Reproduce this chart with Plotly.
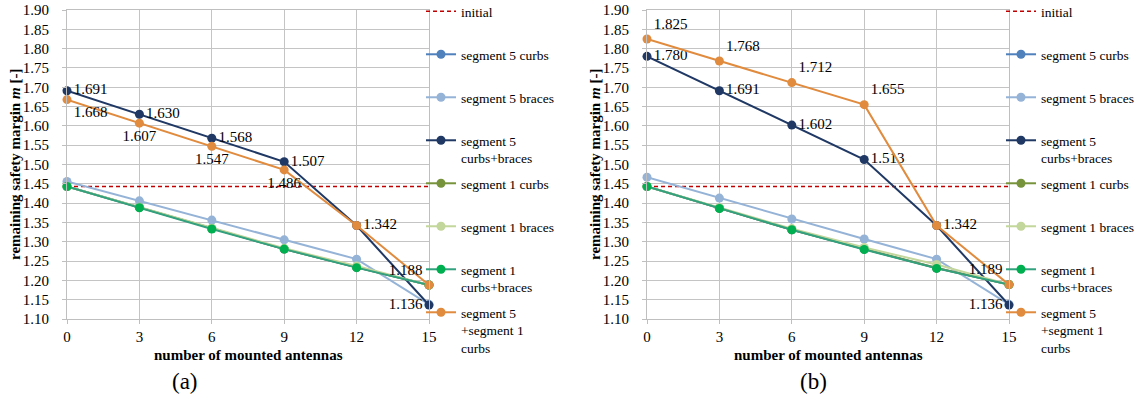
import plotly.graph_objects as go

# ---------------- data ----------------
antennas = [0, 3, 6, 9, 12, 15]
y_ticks = [1.10, 1.15, 1.20, 1.25, 1.30, 1.35, 1.40, 1.45, 1.50, 1.55, 1.60,
           1.65, 1.70, 1.75, 1.80, 1.85, 1.90]

series_names = ["initial", "segment 5 curbs", "segment 5 braces",
                "segment 5<br>curbs+braces", "segment 1 curbs", "segment 1 braces",
                "segment 1<br>curbs+braces", "segment 5<br>+segment 1<br>curbs"]

# panel (a)
a_initial = [1.443, 1.443, 1.443, 1.443, 1.443, 1.443]
a_seg5_curbs = [1.443, 1.389, 1.334, 1.281, 1.234, 1.188]
a_seg5_braces = [1.456, 1.406, 1.356, 1.305, 1.255, 1.138]
a_seg5_cb = [1.691, 1.630, 1.568, 1.507, 1.342, 1.136]
a_seg1_curbs = [1.443, 1.389, 1.334, 1.281, 1.234, 1.188]
a_seg1_braces = [1.443, 1.389, 1.335, 1.283, 1.237, 1.188]
a_seg1_cb = [1.443, 1.388, 1.333, 1.281, 1.233, 1.188]
a_seg51_curbs = [1.668, 1.607, 1.547, 1.486, 1.342, 1.188]

# panel (b)
b_initial = [1.443, 1.443, 1.443, 1.443, 1.443, 1.443]
b_seg5_curbs = [1.443, 1.387, 1.331, 1.281, 1.232, 1.189]
b_seg5_braces = [1.467, 1.413, 1.359, 1.307, 1.255, 1.138]
b_seg5_cb = [1.780, 1.691, 1.602, 1.513, 1.342, 1.136]
b_seg1_curbs = [1.443, 1.387, 1.331, 1.281, 1.232, 1.189]
b_seg1_braces = [1.443, 1.388, 1.334, 1.285, 1.241, 1.189]
b_seg1_cb = [1.443, 1.386, 1.331, 1.280, 1.231, 1.189]
b_seg51_curbs = [1.825, 1.768, 1.712, 1.655, 1.342, 1.189]

# ---------------- styling ----------------
FONT = "Liberation Serif, Times New Roman, DejaVu Serif, serif"
W, H = 1139, 398


def px_x(x):
    return x / W


def px_y(y):
    return 1 - y / H


colors_line = ["#C00000", "#4F81BD", "#95B3D7", "#1F3864", "#77933C",
               "#C3D69B", "#33A07E", "#E08B3E"]
colors_mark = ["#C00000", "#4F81BD", "#95B3D7", "#1F3864", "#77933C",
               "#C3D69B", "#00B050", "#E08B3E"]

# label display: (show mask, text positions)
labels = {
    ("a", 3): ([1, 1, 1, 1, 0, 1],
               ["middle right"] * 5 + ["middle left"]),
    ("a", 7): ([1, 1, 1, 1, 1, 1],
               ["bottom right", "bottom center", "bottom center", "bottom center",
                "middle right", "top left"]),
    ("b", 3): ([1, 1, 1, 1, 0, 1],
               ["middle right"] * 5 + ["middle left"]),
    ("b", 7): ([1, 1, 1, 1, 1, 1],
               ["top right"] * 4 + ["middle right", "top left"]),
}

panels = {
    "a": dict(data=[a_initial, a_seg5_curbs, a_seg5_braces, a_seg5_cb, a_seg1_curbs,
                    a_seg1_braces, a_seg1_cb, a_seg51_curbs],
              xaxis="x", yaxis="y", x0=67, x1=429, legx=421, label="(a)", labx=185),
    "b": dict(data=[b_initial, b_seg5_curbs, b_seg5_braces, b_seg5_cb, b_seg1_curbs,
                    b_seg1_braces, b_seg1_cb, b_seg51_curbs],
              xaxis="x2", yaxis="y2", x0=647, x1=1009, legx=1001, label="(b)", labx=813),
}

legend_centers = [12, 55, 98, 141, 184, 227, 270, 313]

fig = go.Figure()
layout_legends = {}
leg_idx = 0
for key, p in panels.items():
    for i, vals in enumerate(p["data"]):
        leg_idx += 1
        lname = "legend" if leg_idx == 1 else f"legend{leg_idx}"
        if i == 0:
            tr = go.Scatter(x=antennas, y=vals, mode="lines", name=series_names[i],
                            line=dict(color=colors_line[i], width=1.5, dash="4px,3px"),
                            xaxis=p["xaxis"], yaxis=p["yaxis"], legend=lname,
                            cliponaxis=False)
        else:
            text = None
            tpos = None
            if (key, i) in labels:
                mask, tpos = labels[(key, i)]
                text = [f"{v:.3f}" if m else "" for v, m in zip(vals, mask)]
            tr = go.Scatter(x=antennas, y=vals, mode="lines+markers+text" if text else "lines+markers",
                            name=series_names[i],
                            line=dict(color=colors_line[i], width=2),
                            marker=dict(color=colors_mark[i], size=9),
                            text=text, textposition=tpos,
                            textfont=dict(family=FONT, size=15, color="black"),
                            xaxis=p["xaxis"], yaxis=p["yaxis"], legend=lname,
                            cliponaxis=False)
        fig.add_trace(tr)
        layout_legends[lname] = dict(
            x=px_x(p["legx"]), y=px_y(legend_centers[i] - 16),
            xanchor="left", yanchor="top", valign="top",
            bgcolor="rgba(0,0,0,0)", borderwidth=0,
            font=dict(family=FONT, size=13.5, color="black"),
            itemwidth=30, tracegroupgap=0)

axis_common = dict(
    showgrid=True, gridcolor="#C4C4C4", gridwidth=1,
    showline=True, linecolor="#BFBFBF", linewidth=1, mirror=True,
    ticks="outside", ticklen=4, tickcolor="#BFBFBF",
    tickfont=dict(family=FONT, size=15, color="black"),
    zeroline=False, fixedrange=True, automargin=False,
    ticklabeloverflow="allow",
)

ydom = [px_y(319), px_y(10)]
for key, p in panels.items():
    xa = "xaxis" if p["xaxis"] == "x" else "xaxis2"
    ya = "yaxis" if p["yaxis"] == "y" else "yaxis2"
    fig.layout[xa] = dict(axis_common, domain=[px_x(p["x0"]), px_x(p["x1"])],
                          range=[0, 15], tickvals=antennas, anchor=p["yaxis"],
                          ticklabelstandoff=0)
    fig.layout[ya] = dict(axis_common, domain=ydom, range=[1.10, 1.90],
                          tickvals=y_ticks, tickformat=".2f", anchor=p["xaxis"],
                          ticklabelstandoff=10)
    cx = (p["x0"] + p["x1"]) / 2
    fig.add_annotation(x=px_x(cx), y=px_y(355), xref="paper", yref="paper",
                       text="<b>number of mounted antennas</b>", showarrow=False,
                       font=dict(family=FONT, size=15, color="black"),
                       xanchor="center", yanchor="middle")
    fig.add_annotation(x=px_x(p["x0"] - 52), y=px_y(165), xref="paper", yref="paper",
                       text="<b>remaining safety margin <i>m</i> [-]</b>", showarrow=False,
                       textangle=-90,
                       font=dict(family=FONT, size=15, color="black"),
                       xanchor="center", yanchor="middle")
    fig.add_annotation(x=px_x(p["labx"]), y=px_y(381), xref="paper", yref="paper",
                       text=p["label"], showarrow=False,
                       font=dict(family=FONT, size=23, color="black"),
                       xanchor="center", yanchor="middle")

fig.update_layout(
    width=W, height=H,
    margin=dict(l=0, r=0, t=0, b=0, autoexpand=False),
    paper_bgcolor="white", plot_bgcolor="white",
    showlegend=True, hovermode=False,
    font=dict(family=FONT, color="black"),
    **layout_legends,
)

fig.write_html(
    "out.html",
    config={"displayModeBar": False, "staticPlot": True},
    post_script="document.body.style.margin='0px';document.body.style.overflow='hidden';",
)
